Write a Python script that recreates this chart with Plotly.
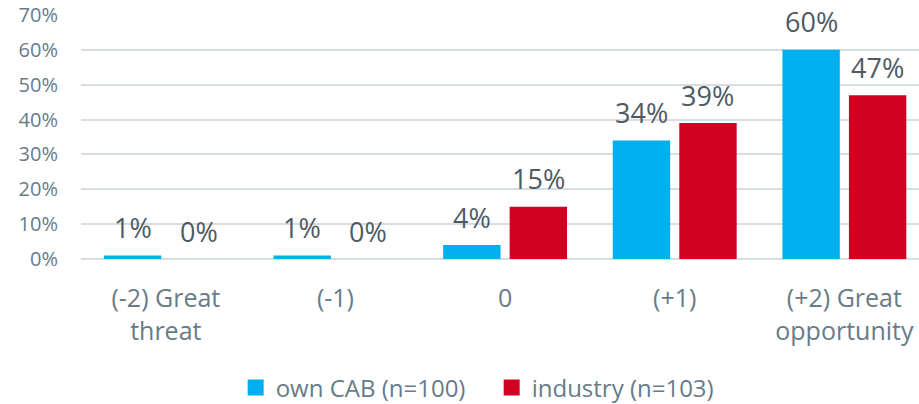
import plotly.graph_objects as go

categories = ["(-2) Great<br>threat", "(-1)", "0", "(+1)", "(+2) Great<br>opportunity"]
own_cab = [1, 1, 4, 34, 60]
industry = [0, 0, 15, 39, 47]
series_names = ["own CAB (n=100)", "industry (n=103)"]
tick_vals = [0, 10, 20, 30, 40, 50, 60, 70]
tick_text = ["0%", "10%", "20%", "30%", "40%", "50%", "60%", "70%"]

BLUE = "#00B0EE"
RED = "#D20021"
FONT = "Open Sans, Roboto, DejaVu Sans, sans-serif"
AXIS_COL = "#687B87"
LABEL_COL = "#4E5A64"

positions = list(range(len(categories)))

fig = go.Figure()
fig.add_trace(go.Bar(x=positions, y=own_cab, name=series_names[0], showlegend=False,
                     marker=dict(color=BLUE, line=dict(width=0))))
fig.add_trace(go.Bar(x=positions, y=industry, name=series_names[1], showlegend=False,
                     marker=dict(color=RED, line=dict(width=0))))
# legend entries with larger square swatches
for name, col in zip(series_names, (BLUE, RED)):
    fig.add_trace(go.Scatter(x=[None], y=[None], mode="markers", name=name,
                             marker=dict(symbol="square", size=16, color=col)))

annotations = []
for vals, shift in ((own_cab, -33), (industry, 33)):
    for p, v in zip(positions, vals):
        annotations.append(dict(x=p, y=v, xref="x", yref="y", text=f"{v}%",
                                showarrow=False, xshift=shift, yshift=28,
                                yanchor="middle",
                                font=dict(family=FONT, size=27, color=LABEL_COL)))

fig.update_layout(
    width=919, height=404,
    margin=dict(l=81, r=0, t=15, b=145),
    paper_bgcolor="white", plot_bgcolor="white",
    barmode="group", bargap=0.216, bargroupgap=0.137,
    font=dict(family=FONT, color=AXIS_COL),
    showlegend=True,
    legend=dict(orientation="h", xref="container", yref="container",
                x=0.535, xanchor="center", y=0.04, yanchor="middle",
                font=dict(size=24, color=AXIS_COL), itemwidth=30,
                entrywidth=211, traceorder="normal"),
    annotations=annotations,
    xaxis=dict(range=[-0.5, 4.44], tickvals=positions, ticktext=categories,
               showgrid=False, showline=False, zeroline=False, automargin=False,
               ticks="", tickfont=dict(size=25, color=AXIS_COL),
               ticklabelstandoff=22),
    yaxis=dict(range=[0, 70], tickvals=tick_vals, ticktext=tick_text,
               automargin=False,
               showgrid=True, gridcolor="#D6DEE2", gridwidth=1.5,
               zeroline=True, zerolinecolor="#D6DEE2", zerolinewidth=1.5,
               showline=False, ticks="", ticklabelstandoff=22,
               tickfont=dict(size=20, color=AXIS_COL)),
)

fig.write_html("out.html", config={"displayModeBar": False},
               post_script="document.body.style.margin='0';document.body.style.overflow='hidden';")
